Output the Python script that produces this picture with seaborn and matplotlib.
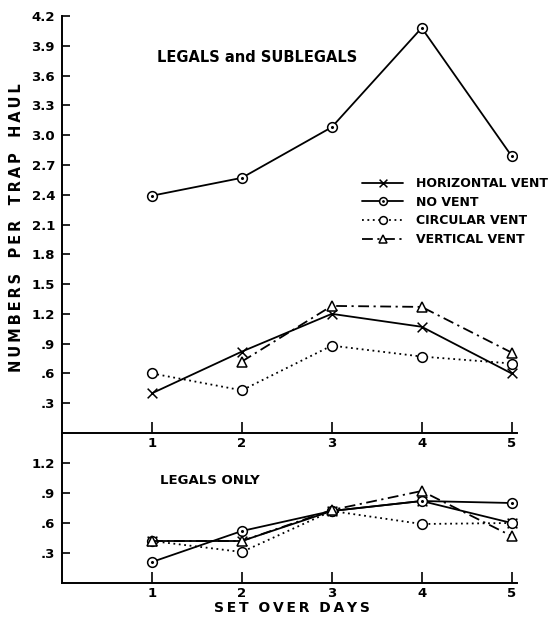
import numpy as np
import pandas as pd
import seaborn as sns
import matplotlib.pyplot as plt
from matplotlib.path import Path

days = [1, 2, 3, 4, 5]
vents = ["HORIZONTAL VENT", "NO VENT", "CIRCULAR VENT", "VERTICAL VENT"]

# legals and sublegals (top panel)
all_horizontal = [0.40, 0.82, 1.20, 1.07, 0.60]
all_none = [2.39, 2.57, 3.08, 4.08, 2.79]
all_circular = [0.60, 0.43, 0.88, 0.77, 0.70]
all_vertical = [np.nan, 0.72, 1.28, 1.27, 0.81]

# legals only (bottom panel)
leg_horizontal = [0.42, 0.42, 0.72, 0.82, 0.60]
leg_none = [0.21, 0.52, 0.72, 0.82, 0.80]
leg_circular = [0.42, 0.31, 0.72, 0.59, 0.60]
leg_vertical = [0.42, 0.42, 0.73, 0.92, 0.47]

top_ylabels = [".3", ".6", ".9", "1.2", "1.5", "1.8", "2.1", "2.4",
               "2.7", "3.0", "3.3", "3.6", "3.9", "4.2"]
bottom_ylabels = [".3", ".6", ".9", "1.2"]
xlabels = ["1", "2", "3", "4", "5"]


def spaced(text, gap="\u2009"):
    return gap.join(text)


def long_frame(series):
    rows = []
    for vent, values in zip(vents, series):
        for day, v in zip(days, values):
            rows.append({"day": day, "value": v, "vent": vent})
    return pd.DataFrame(rows)


# custom marker shapes so seaborn treats them all as "filled"
cross = Path([(-1, -1), (1, 1), (-1, 1), (1, -1)],
             [Path.MOVETO, Path.LINETO, Path.MOVETO, Path.LINETO])
dot_circle = Path.make_compound_path(Path.circle((0, 0), 1.0),
                                     Path.circle((0, 0), 0.16))
marker_map = dict(zip(vents, [cross, dot_circle, "o", "^"]))
dash_map = dict(zip(vents, ["", "", (1, 2), (6, 2.5, 1.2, 2.5)]))

sns.set_style("ticks")
plt.rcParams["font.family"] = ["DejaVu Sans"]
plt.rcParams["font.weight"] = "bold"
plt.rcParams["text.color"] = "black"

fig = plt.figure(figsize=(5.6, 6.18), dpi=100)
left = 62 / 560
width = (517 - 62) / 560
ax_top = fig.add_axes([left, 1 - 433 / 618, width, 417 / 618])
ax_bot = fig.add_axes([left, 1 - 583 / 618, width, 150 / 618])
ax_bot.patch.set_visible(False)

line_kws = dict(x="day", y="value", hue="vent", style="vent",
                hue_order=vents, style_order=vents, palette=["black"] * 4,
                markers=marker_map, dashes=dash_map, markersize=7,
                linewidth=1.3, mec="black", mfc="white", mew=1.1)

sns.lineplot(data=long_frame([all_horizontal, all_none, all_circular, all_vertical]),
             ax=ax_top, legend=True, **line_kws)
sns.lineplot(data=long_frame([leg_horizontal, leg_none, leg_circular, leg_vertical]),
             ax=ax_bot, legend=False, **line_kws)

for ax, ylabels, top in [(ax_top, top_ylabels, 4.2), (ax_bot, bottom_ylabels, 1.5)]:
    ax.set_xlim(0, 5.06)
    ax.set_ylim(0, top)
    ax.set_xticks(days)
    ax.set_xticklabels(xlabels)
    ax.set_yticks([float(s) for s in ylabels])
    ax.set_yticklabels(ylabels)
    ax.tick_params(direction="in", length=6, width=1.2, labelsize=9.5,
                   colors="black", pad=5)
    ax.tick_params(axis="x", length=8, pad=3)
    for side in ["top", "right"]:
        ax.spines[side].set_visible(False)
    for side in ["left", "bottom"]:
        ax.spines[side].set_linewidth(1.4)
        ax.spines[side].set_color("black")
    ax.set_xlabel("")
    ax.set_ylabel("")

sns.move_legend(ax_top, "upper left", bbox_to_anchor=(362 / 560, 1 - 177 / 618),
                bbox_transform=fig.transFigure, frameon=False, title=None,
                fontsize=9, handlelength=3.3, handletextpad=1.0, markerscale=0.8,
                labelspacing=0.45, borderpad=0, borderaxespad=0, labelcolor="black")

ax_top.text(157 / 560, 1 - 57 / 618, "LEGALS and SUBLEGALS", transform=fig.transFigure,
            fontsize=10.5, va="center", ha="left")
ax_bot.text(160 / 560, 1 - 481 / 618, "LEGALS ONLY", transform=fig.transFigure,
            fontsize=9.5, va="center", ha="left")
fig.text(17 / 560, 1 - 228 / 618, "   ".join(spaced(w) for w in "NUMBERS PER TRAP HAUL".split()),
         rotation=90, fontsize=10.5, va="center", ha="center")
fig.text(292 / 560, 1 - 608 / 618, "  ".join(spaced(w) for w in "SET OVER DAYS".split()),
         fontsize=10, va="center", ha="center")

fig.savefig("out.png", dpi=100, facecolor="white")
